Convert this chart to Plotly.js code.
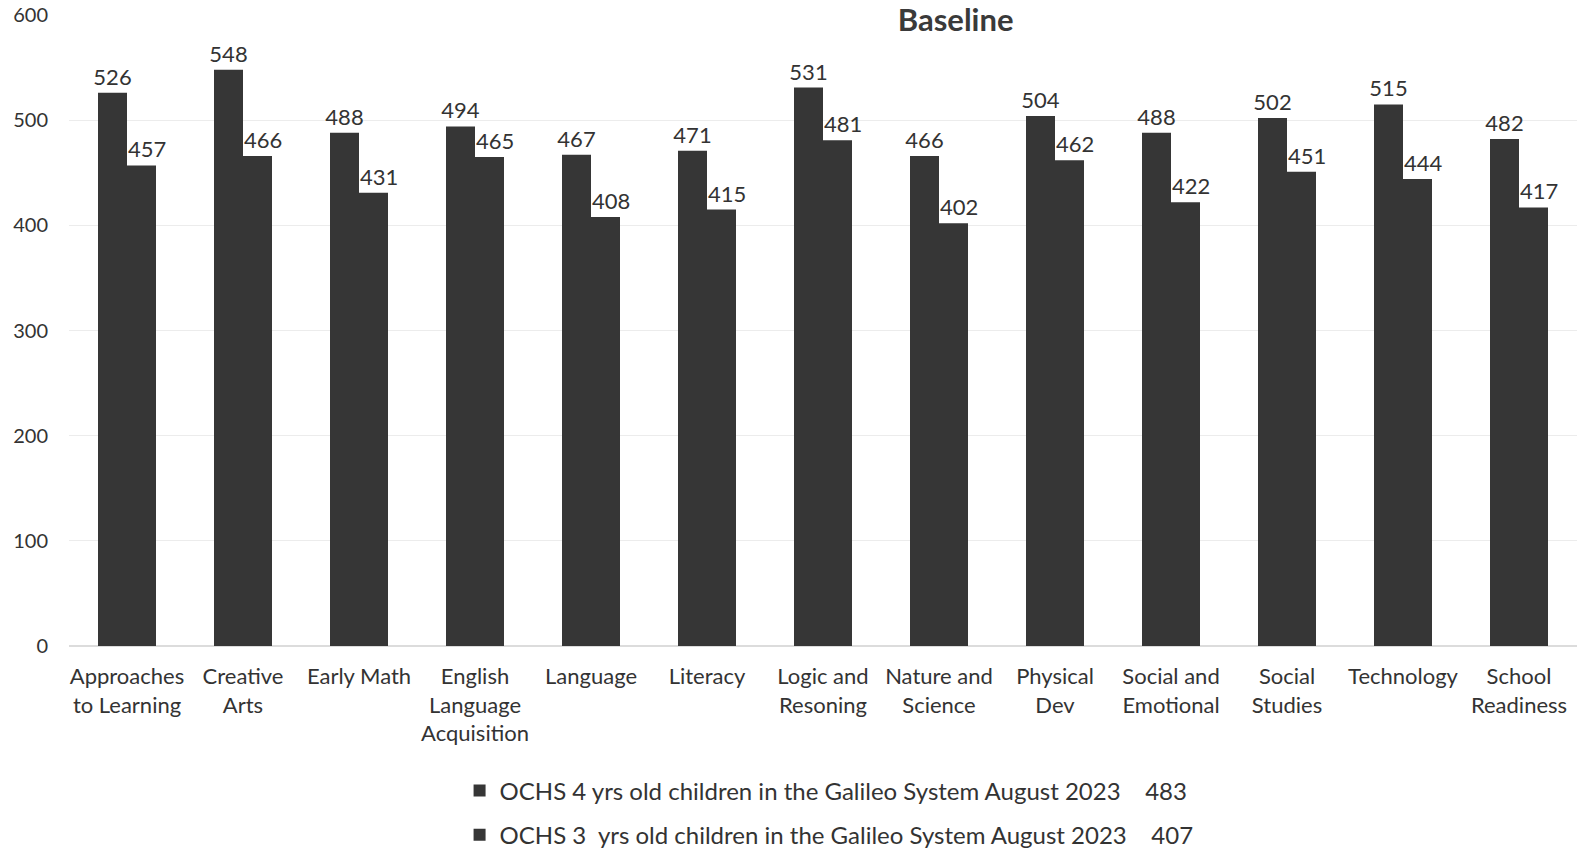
<!DOCTYPE html>
<html>
<head>
<meta charset="utf-8">
<script src="https://cdn.plot.ly/plotly-3.0.1.min.js"></script>
<style>html,body{margin:0;padding:0;background:#fff;}#chart{width:1577px;height:851px;}</style>
</head>
<body>
<div id="chart"></div>
<script>
const categories = [
  "Approaches<br>to Learning", "Creative<br>Arts", "Early Math", "English<br>Language<br>Acquisition",
  "Language", "Literacy", "Logic and<br>Resoning", "Nature and<br>Science", "Physical<br>Dev",
  "Social and<br>Emotional", "Social<br>Studies", "Technology", "School<br>Readiness"
];
const fourYrs = [526, 548, 488, 494, 467, 471, 531, 466, 504, 488, 502, 515, 482];
const threeYrs = [457, 466, 431, 465, 408, 415, 481, 402, 462, 422, 451, 444, 417];
const seriesNames = [
  "OCHS 4 yrs old children in the Galileo System August 2023\u00a0\u00a0\u00a0\u00a0483",
  "OCHS 3\u00a0 yrs old children in the Galileo System August 2023\u00a0\u00a0\u00a0\u00a0407"
];
const yTicks = [0, 100, 200, 300, 400, 500, 600];

const FONT = "Lato, 'Open Sans', sans-serif";
const barColor = "#363636";
const labelTemplates = ["%{y}", "\u00a0\u00a0%{y}"];

const traces = [fourYrs, threeYrs].map((vals, i) => ({
  type: "bar",
  x: categories,
  y: vals,
  name: seriesNames[i],
  legendgroup: "g" + i,
  marker: {color: barColor},
  texttemplate: labelTemplates[i],
  textposition: "outside",
  constraintext: "none",
  cliponaxis: false,
  hoverinfo: "skip",
  textfont: {family: FONT, size: 22, color: "#333"}
}));

const layout = {
  width: 1577, height: 851,
  margin: {l: 69, r: 0, t: 15, b: 205},
  paper_bgcolor: "#fff", plot_bgcolor: "#fff",
  barmode: "group", bargap: 0.5, bargroupgap: 0,
  title: {text: "<b>Baseline</b>", x: 0.588, xanchor: "center", xref: "paper", y: 0.976, yanchor: "middle",
          font: {family: FONT, size: 31, color: "#3a3a3a"}},
  font: {family: FONT, color: "#333"},
  xaxis: {
    tickfont: {family: FONT, size: 22, color: "#333"},
    showline: false, ticks: "", ticklabelstandoff: 15, automargin: false
  },
  yaxis: {
    range: [0, 600], tickvals: yTicks, ticktext: yTicks.map(String),
    tickfont: {family: FONT, size: 20, color: "#333"},
    showgrid: true, gridcolor: "#ececec", zeroline: true, zerolinecolor: "#dcdcdc", zerolinewidth: 1.5,
    ticks: "", ticklabelstandoff: 20, automargin: false
  },
  showlegend: true,
  legend: {
    orientation: "v", x: 0.259, xanchor: "left", y: 0.097, yanchor: "top", yref: "container",
    font: {family: FONT, size: 24, color: "#333"},
    traceorder: "grouped", tracegroupgap: 10, itemwidth: 30
  }
};

Plotly.newPlot("chart", traces, layout, {displayModeBar: false, staticPlot: true});
</script>
</body>
</html>
